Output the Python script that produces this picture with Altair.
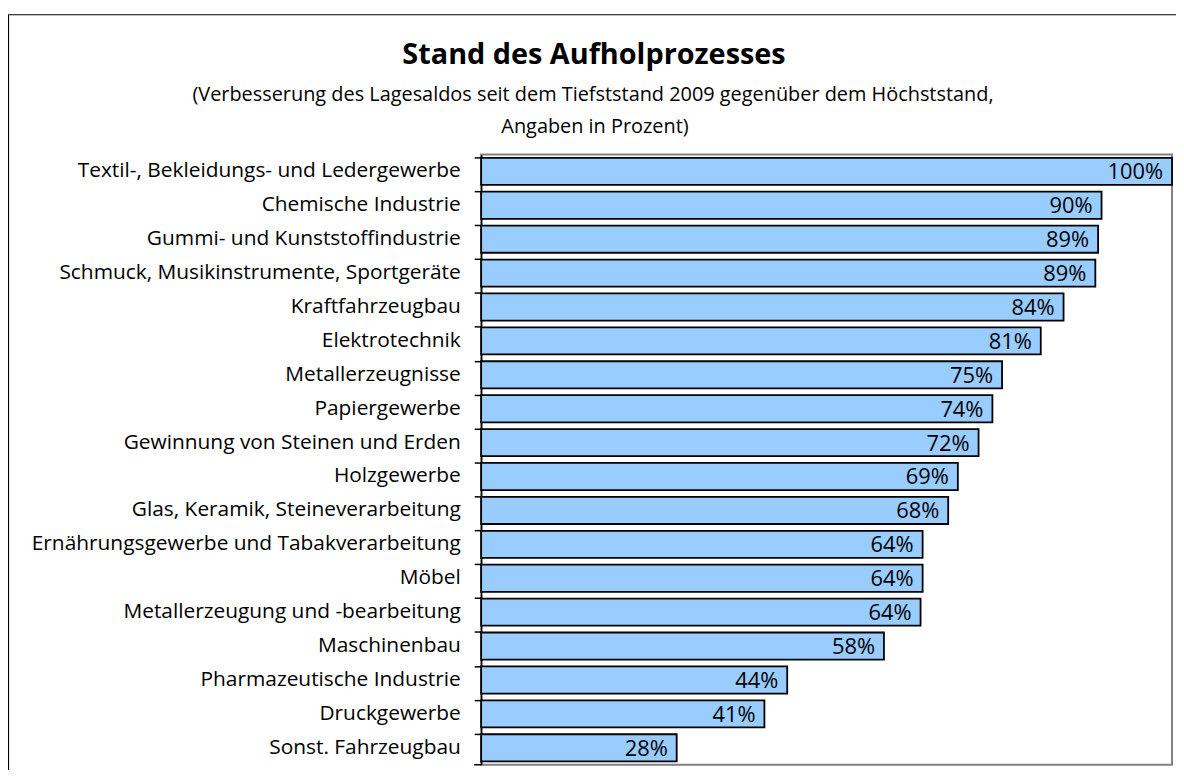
import altair as alt
import pandas as pd

categories = [
    "Textil-, Bekleidungs- und Ledergewerbe",
    "Chemische Industrie",
    "Gummi- und Kunststoffindustrie",
    "Schmuck, Musikinstrumente, Sportgeräte",
    "Kraftfahrzeugbau",
    "Elektrotechnik",
    "Metallerzeugnisse",
    "Papiergewerbe",
    "Gewinnung von Steinen und Erden",
    "Holzgewerbe",
    "Glas, Keramik, Steineverarbeitung",
    "Ernährungsgewerbe und Tabakverarbeitung",
    "Möbel",
    "Metallerzeugung und -bearbeitung",
    "Maschinenbau",
    "Pharmazeutische Industrie",
    "Druckgewerbe",
    "Sonst. Fahrzeugbau",
]
values = [1.00, 0.898, 0.893, 0.889, 0.843, 0.81, 0.754, 0.74, 0.72, 0.69,
          0.676, 0.639, 0.639, 0.636, 0.583, 0.443, 0.41, 0.283]

title_text = "Stand des Aufholprozesses"
subtitle_lines = [
    "(Verbesserung des Lagesaldos seit dem Tiefststand 2009 gegenüber dem Höchststand,",
    "Angaben in Prozent)",
]

df = pd.DataFrame({"cat": categories, "val": values})

FONT = "Open Sans"

y_enc = alt.Y(
    "cat:N",
    sort=categories,
    title=None,
    scale=alt.Scale(paddingInner=0.2, paddingOuter=0.1),
    axis=alt.Axis(
        labelFontSize=21,
        labelColor="black",
        labelFont=FONT,
        labelLimit=600,
        labelPadding=14,
        tickSize=7,
        tickColor="black",
        tickWidth=1.5,
        domainColor="black",
        domainWidth=1.5,
        bandPosition=0,
    ),
)
x_enc = alt.X("val:Q", scale=alt.Scale(domain=[0, 1], nice=False), axis=None)

bars = alt.Chart(df).mark_bar(
    color="#99CCFF", stroke="black", strokeWidth=1.8
).encode(x=x_enc, y=y_enc)

labels = alt.Chart(df).transform_calculate(
    lab="format(datum.val*100, '.0f') + '%'"
).mark_text(
    align="right", baseline="middle", dx=-9, dy=1, fontSize=22, font=FONT, color="black"
).encode(x=x_enc, y=alt.Y("cat:N", sort=categories), text="lab:N")

one = alt.Data(values=[{}])

frame = alt.Chart(one).mark_rect(
    fill="transparent", stroke="black", strokeWidth=1.2
).encode(
    x=alt.value(-475.5), x2=alt.value(740),
    y=alt.value(-140.5), y2=alt.value(700),
)

bottom_tick = alt.Chart(one).mark_rule(color="black", strokeWidth=1.5).encode(
    x=alt.value(-7), x2=alt.value(0), y=alt.value(614)
)

title_mark = alt.Chart(one).mark_text(
    align="center", baseline="alphabetic", font=FONT, fontSize=29,
    fontWeight="bold", color="black"
).encode(x=alt.value(113.5), y=alt.value(-91), text=alt.value(title_text))

sub1 = alt.Chart(one).mark_text(
    align="center", baseline="alphabetic", font=FONT, fontSize=20, color="black"
).encode(x=alt.value(112.5), y=alt.value(-54), text=alt.value(subtitle_lines[0]))

sub2 = alt.Chart(one).mark_text(
    align="center", baseline="alphabetic", font=FONT, fontSize=20, color="black"
).encode(x=alt.value(114.5), y=alt.value(-22), text=alt.value(subtitle_lines[1]))

chart = alt.layer(bars, labels, frame, bottom_tick, title_mark, sub1, sub2).properties(
    width=695,
    height=614,
    padding={"left": 476, "top": 145, "right": 4, "bottom": 3},
    autosize=alt.AutoSizeParams(type="none"),
).configure_view(
    stroke="#808080", strokeWidth=2
)

chart.save("out.html", embed_options={"renderer": "svg", "actions": False})
